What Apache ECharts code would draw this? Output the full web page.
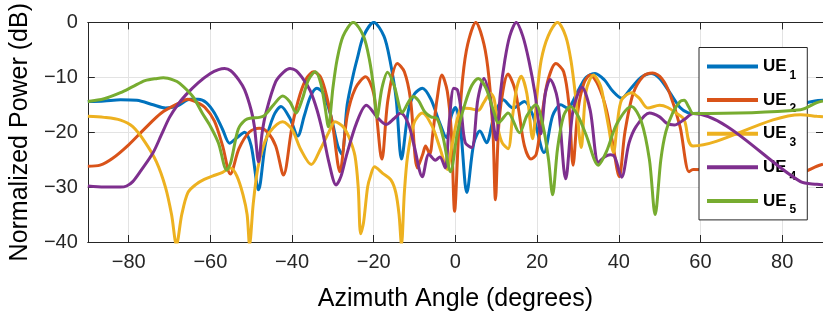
<!DOCTYPE html>
<html><head><meta charset="utf-8">
<script src="https://cdn.jsdelivr.net/npm/echarts@6/dist/echarts.min.js"></script>
<style>html,body{margin:0;padding:0;background:#fff}#c{width:823px;height:322px}</style>
</head><body><div id="c"></div>
<script>
const xTicks = [-80, -60, -40, -20, 0, 20, 40, 60, 80];
const seriesNames = ['UE1', 'UE2', 'UE3', 'UE4', 'UE5'];
const seriesColors = ['#0072BD', '#D95319', '#EDB120', '#7E2F8E', '#77AC30'];

const ue1Angle = [-90,-86,-82,-78,-74,-71,-68,-65,-63,-61,-59,-57,-55.3,-53.5,-51.6,-50,-48.2,-46.5,-44.5,-42.7,-40.5,-38.6,-37,-35.5,-33.9,-32.3,-30.5,-28.8,-27.8,-26.5,-25,-24,-22.5,-20,-17.5,-16,-14.5,-13.2,-11.5,-10,-8.1,-6,-4,-2.2,-1,0,1.2,2.8,4.5,6,7.6,9.5,11.7,14.1,16.9,19,21.7,23.8,25.8,27.4,30,32,34.2,36.5,38.5,40.7,43,45.5,47.9,50,52.5,55,57,58.2,84.5,88,90];
const ue1Power = [-14.4,-14.3,-14.1,-14.2,-15.0,-15.6,-15.2,-14.0,-14.0,-14.6,-16.5,-19.5,-22.0,-21.0,-20.0,-22.5,-30.5,-22,-17,-15.3,-17.5,-20.7,-17,-13.5,-12.0,-13.0,-17,-22.5,-24.0,-15,-9.5,-6.5,-2.5,0,-2.5,-7,-14,-24.9,-16,-13,-12.0,-14,-18,-21,-17,-15.5,-19,-31,-22,-19.8,-21.9,-17,-14.1,-15.6,-14.4,-17,-23.7,-17,-15.0,-15.6,-12.5,-10,-9.3,-10.5,-12.5,-13.8,-12,-10,-9.3,-10.2,-12.8,-15.5,-16.5,-16.6,-14.8,-14.3,-14.2];

const ue2Angle = [-90,-87,-84,-80,-76,-72,-68,-65.5,-63.5,-61.3,-59,-57,-55.1,-53,-50.5,-48,-46,-44,-42.1,-40,-38,-36.3,-34.7,-33,-31.5,-30,-28.3,-26.5,-24.5,-22,-20,-18,-16.5,-14.2,-12.5,-11,-9.3,-8,-7.3,-6.3,-5.5,-4.5,-3.3,-2,-1,-0.2,0.8,1.8,3,5,7,8.2,9.2,9.8,10.8,12.9,14.5,15.5,16.9,18.5,19.8,21,22.5,24.6,26.5,27.8,28.8,30,31.5,33,35,37,38.5,40.1,41.5,43.5,46,48.3,50.5,52.5,55,57.2,58.2,84.5,88.5,90];
const ue2Power = [-26.2,-26.0,-24.8,-22.3,-19.3,-16.5,-14.8,-14.0,-14.5,-15.5,-18,-22.5,-27.6,-23,-20,-19.3,-20,-22.5,-27.8,-19,-13,-10,-9.0,-10,-13.5,-19,-27.2,-17,-12,-9.9,-13,-24.9,-14,-7.5,-9,-14,-26.5,-24,-22.5,-24,-20,-14,-9.6,-12.5,-20,-34.4,-20,-10,-4,0,-4,-10,-20,-32.3,-17,-9.4,-12,-16,-22.5,-24.9,-24,-18,-11,-7.5,-9,-15,-26.0,-16,-11,-9.6,-11.5,-16,-22,-28.1,-20,-13,-9.8,-9.2,-10.2,-13,-19,-27.2,-26.8,-27.3,-26.2,-25.8];

const ue3Angle = [-90,-86,-82,-79,-76,-73.2,-71,-69.5,-68.3,-67,-65.5,-63.5,-61.5,-59.5,-57,-55,-53.5,-52,-51,-50.4,-49.5,-48.4,-47,-45.5,-42.3,-40,-37.9,-35.3,-33,-31,-29.5,-27.5,-26,-24.6,-23.8,-23.2,-22.5,-21.5,-20.8,-19.8,-17.8,-15.8,-14.6,-13.8,-13.2,-12.5,-11.7,-10.1,-8.1,-5.7,-3.7,-2,-1,0.5,1.6,3.5,5.6,7,8.6,9.5,10.5,11.5,12.9,14,15,16.1,17.5,18.9,20,21,22.7,25,27,28.3,29.5,30.8,32,33.8,35.5,36.5,37.5,38.7,39.7,40.7,43.1,45,47.1,50,52,54,56,58.2,84.5,88.5,90];
const ue3Power = [-17.1,-17.3,-17.8,-19,-21.8,-25.4,-30,-35,-40.5,-35,-31,-29.5,-28.6,-28,-27.3,-26.5,-28,-31.4,-35,-40.5,-33,-26.6,-22.5,-20,-18.1,-19.5,-23.1,-25.9,-23,-20,-18.1,-19,-21,-24.3,-30,-38.5,-36.5,-30,-28,-26.3,-27.5,-28.7,-31,-35,-40.5,-31,-24.3,-18.3,-16.5,-18.9,-23.1,-26.8,-23,-17.5,-15.6,-15.7,-16.0,-14.5,-12.9,-14,-19.5,-22,-23,-17,-12,-9.8,-13,-21.2,-13,-6.9,-2.5,0,-2.5,-7,-14,-22.8,-12.5,-9.6,-11.5,-15,-19,-23.7,-18,-14.1,-12.8,-13.8,-15.6,-15.1,-15.5,-16.5,-17.7,-22.5,-16.8,-17.1,-17.2];

const ue4Angle = [-90,-86,-82,-80.5,-79,-77,-74,-72,-70,-68,-66,-63,-60,-58,-56.5,-55,-53,-51.6,-50,-49.2,-48.2,-47.3,-46.4,-44,-42,-40.5,-39,-37.1,-35.5,-33.9,-32.5,-31,-29.2,-28,-26.7,-24.2,-21.8,-19,-17,-15,-13.4,-11.5,-10.1,-8.1,-6.5,-4.9,-3.8,-2.5,-1.5,-0.4,0.5,1.4,2.4,4,5.5,7,8.5,10,11,12.1,13.3,14.9,16.5,18,19.5,20.9,22,23.2,25,27,28.8,31,33,35,36.5,37.9,39,40.7,42.5,44.3,47.5,50,51.6,53.6,56,58.2,84.5,88.5,90];
const ue4Power = [-29.8,-30.0,-30.0,-29.8,-29,-27,-23.7,-20.5,-17.3,-15,-13.2,-11,-9.3,-8.6,-8.4,-8.8,-10.5,-12.3,-16,-19,-25.4,-20,-16.5,-10.8,-9,-8.4,-8.8,-10.5,-12.5,-15.9,-20,-25.4,-29.6,-28,-24.3,-18.3,-15.1,-17.4,-18.6,-17.5,-16.5,-18.5,-22.5,-28.1,-24.0,-25.1,-24.5,-26.5,-18,-12.0,-12.3,-16,-21.9,-22.8,-14,-10.2,-14,-21.4,-13,-6.9,-2.5,0,-2.5,-7,-13,-20.3,-13,-10.4,-14,-28.5,-16,-11.8,-16,-25.5,-24.5,-24.1,-24.5,-28.2,-22,-18.9,-16.5,-17.2,-18.3,-18.7,-17.7,-16.6,-29.0,-29.5,-29.6];

const ue5Angle = [-90,-86,-82,-79,-76,-73,-71.5,-69,-67.5,-64.3,-62,-60,-58,-56,-55,-53.2,-51.5,-50,-48,-46.8,-44.5,-42.3,-40.5,-39,-37.5,-36,-34.3,-33,-32,-31.1,-30,-29,-27.5,-25,-22.5,-21,-20,-19.2,-18,-16.6,-15,-13,-11.5,-10.3,-9,-7.5,-6,-4.5,-3,-1.2,0.5,2.4,4,5.6,7.5,9.5,10.5,12.9,15.7,17.5,19.7,21.5,22.8,23.8,25,26.5,28.2,30,32,35,37,39.5,43.1,45.5,47.5,48.9,50.3,51.5,53.2,55,56,57.2,58.2,84.5,88.5,90];
const ue5Power = [-14.4,-13.9,-12.8,-11.7,-10.6,-10.2,-10.1,-10.5,-11.1,-13.5,-16.5,-18.9,-22,-26.9,-25.5,-19.5,-17.8,-17.4,-17.3,-17.0,-15,-13.4,-14.5,-16.5,-14,-10.5,-9.0,-11,-15,-19.0,-12,-6.9,-2.5,0,-2.5,-7,-12,-17.3,-12,-9.1,-11.5,-16.4,-14.5,-13.5,-14.3,-16.3,-17.2,-17.5,-21,-27.2,-20,-14.7,-11.5,-10.2,-12,-16.5,-18.3,-16.5,-20.1,-17,-15.0,-19,-25,-31.4,-23,-17,-15.3,-17,-20.5,-26.0,-23.5,-18.5,-15.3,-18,-25,-35.0,-25,-20,-16.5,-14.4,-14.2,-15.5,-16.6,-15.9,-14.6,-14.3];

const angles = [ue1Angle, ue2Angle, ue3Angle, ue4Angle, ue5Angle];
const powers = [ue1Power, ue2Power, ue3Power, ue4Power, ue5Power];

const FONT = "'Liberation Sans', Arial, Helvetica, sans-serif";
const TXT = '#262626';
const AX = '#262626';
const minus = v => String(v).replace('-', '\u2212');

const chart = echarts.init(document.getElementById('c'), null, {renderer: 'canvas'});
const series = seriesNames.map((n, i) => ({
  name: n, type: 'line', smooth: 0.3, symbol: 'none', clip: true,
  lineStyle: {width: 3, color: seriesColors[i]},
  itemStyle: {color: seriesColors[i]},
  data: angles[i].map((a, k) => [a, powers[i][k]]),
  z: 2 + i
}));

chart.setOption({
  animation: false,
  backgroundColor: '#fff',
  textStyle: {fontFamily: FONT},
  grid: {left: 86.35, top: 19.5, width: 744.3, height: 222.5, containLabel: false},
  xAxis: [{
    type: 'value', min: -90, max: 90, position: 'bottom',
    name: 'Azimuth Angle (degrees)', nameLocation: 'middle', nameGap: 45,
    nameTextStyle: {fontSize: 25, color: '#000', fontFamily: FONT},
    axisLine: {show: true, onZero: false, lineStyle: {color: AX, width: 1}},
    axisTick: {show: true, inside: true, length: 7, customValues: xTicks, lineStyle: {color: AX}},
    axisLabel: {show: true, customValues: xTicks, fontSize: 20, color: TXT, margin: 10, fontFamily: FONT, formatter: minus},
    splitLine: {show: true, lineStyle: {color: '#e3e3e3', width: 1}}
  }, {
    type: 'value', min: -90, max: 90, position: 'top',
    axisLine: {show: true, onZero: false, lineStyle: {color: AX, width: 1}},
    axisTick: {show: true, inside: true, length: 7, customValues: xTicks, lineStyle: {color: AX}},
    axisLabel: {show: false}, splitLine: {show: false}
  }],
  yAxis: [{
    type: 'value', min: -40, max: 0, interval: 10, position: 'left',
    name: 'Normalized Power (dB)', nameLocation: 'middle', nameGap: 51,
    nameTextStyle: {fontSize: 25, color: '#000', fontFamily: FONT},
    axisLine: {show: true, onZero: false, lineStyle: {color: AX, width: 1}},
    axisTick: {show: true, inside: true, length: 7, lineStyle: {color: AX}},
    axisLabel: {fontSize: 20, color: TXT, margin: 10, fontFamily: FONT, formatter: minus},
    splitLine: {show: true, lineStyle: {color: '#e3e3e3', width: 1}}
  }, {
    type: 'value', min: -40, max: 0, interval: 10, position: 'right',
    axisLine: {show: true, onZero: false, lineStyle: {color: AX, width: 1}},
    axisTick: {show: true, inside: true, length: 7, lineStyle: {color: AX}},
    axisLabel: {show: false}, splitLine: {show: false}
  }],
  legend: {
    orient: 'vertical', left: 699, top: 47.5,
    padding: [4, 11, 4, 8], itemGap: 3.6, itemWidth: 51, itemHeight: 4, icon: 'rect',
    backgroundColor: '#fff', borderColor: '#262626', borderWidth: 1, borderRadius: 0,
    data: seriesNames,
    formatter: n => '{a|UE}{b|' + n.slice(2) + '}',
    textStyle: {
      fontFamily: FONT,
      rich: {
        a: {fontSize: 17, fontWeight: 'bold', color: '#000', lineHeight: 18, verticalAlign: 'middle', fontFamily: FONT},
        b: {fontSize: 12, fontWeight: 'bold', color: '#000', lineHeight: 12, padding: [18, 0, 0, 3], verticalAlign: 'middle', fontFamily: FONT}
      }
    }
  },
  series: series
});
</script></body></html>
